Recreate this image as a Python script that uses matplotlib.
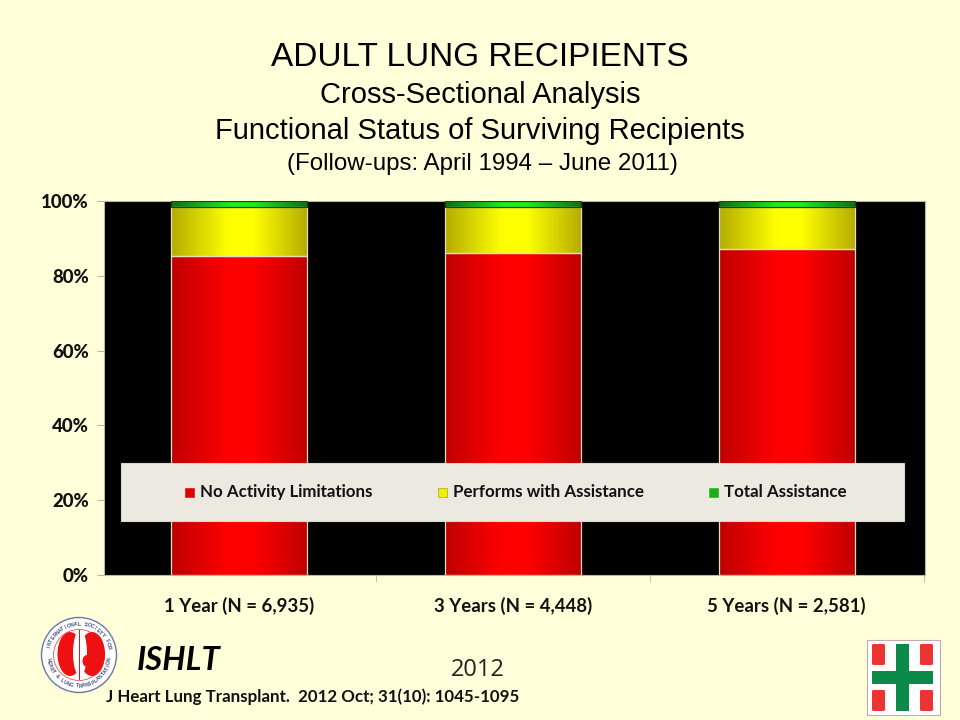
"""ISHLT functional status slide."""
import numpy as np
import matplotlib
matplotlib.use("Agg")
import matplotlib.pyplot as plt
from matplotlib.colors import LinearSegmentedColormap
from matplotlib.patches import Circle, Ellipse, Rectangle, FancyBboxPatch

categories = ["1 Year (N = 6,935)", "3 Years (N = 4,448)", "5 Years (N = 2,581)"]
no_limits = [85.2, 86.1, 87.1]
with_assist = [13.3, 12.4, 11.4]
total_assist = [1.5, 1.5, 1.5]
series_names = ["No Activity Limitations", "Performs with Assistance", "Total Assistance"]
y_ticks = [0, 20, 40, 60, 80, 100]

BG = "#FFFFD9"
W, H = 960, 720
TITLE = "Liberation Sans"
BODY = "Lato"


def gradient_bars(ax, x, bottoms, heights, cmap, edge, lw=0.9):
    bars = ax.bar(x, heights, width=0.497, bottom=bottoms, color="none",
                  edgecolor=edge, linewidth=lw, zorder=3)
    grad = np.linspace(0, 1, 256).reshape(1, -1)
    for b in bars:
        im = ax.imshow(grad, cmap=cmap, aspect="auto", zorder=2,
                       extent=(b.get_x(), b.get_x() + b.get_width(),
                               b.get_y(), b.get_y() + b.get_height()))
        im.set_clip_path(b)


def pick(c_edge, c_mid):
    return LinearSegmentedColormap.from_list(
        "g", [(0, c_edge), (0.42, c_mid), (0.6, c_mid), (1, c_edge)])


fig = plt.figure(figsize=(9.6, 7.2), dpi=100, facecolor=BG)
ax = fig.add_axes([104 / W, 1 - 575 / H, (925 - 104) / W, (575 - 201) / H], facecolor="black")

x = np.arange(len(categories))
no_limits = np.array(no_limits)
with_assist = np.array(with_assist)
total_assist = np.array(total_assist)
gradient_bars(ax, x, 0, no_limits, pick("#BE0000", "#FF0000"), "#E8DCC0")
gradient_bars(ax, x, no_limits, with_assist, pick("#B4AC00", "#FFFF00"), "#E8DCC0")
gradient_bars(ax, x, no_limits + with_assist, total_assist, pick("#0E6E0E", "#18F018"), "#0B4D0B")

ax.set_xlim(-0.495, 2.505)
ax.set_ylim(0, 100)
ax.set_yticks(y_ticks)
ax.set_yticklabels([f"{t}%" for t in y_ticks], fontfamily=BODY, fontweight="black", fontsize=13.4, color="#111111")
ax.set_xticks(x)
ax.set_xticklabels(categories, fontfamily=BODY, fontweight="bold", fontsize=13.4, color="#111111")
ax.tick_params(axis="x", length=0, pad=16)
ax.tick_params(axis="y", length=5, color="#B8B8A8", pad=6)
ax.set_xticks([0.5, 1.5, 2.5], minor=True)
ax.tick_params(axis="x", which="minor", length=5, color="#B8B8A8")
for s in ax.spines.values():
    s.set_color("#B8B8A8")

# everything below sits on a pixel-coordinate overlay
ov = fig.add_axes([0, 0, 1, 1], facecolor="none")
ov.set_xlim(0, W)
ov.set_ylim(H, 0)
ov.axis("off")

# titles
ov.text(480, 58, "ADULT LUNG RECIPIENTS", ha="center", va="center", family=TITLE, fontsize=24)
ov.text(480, 95, "Cross-Sectional Analysis", ha="center", va="center", family=TITLE, fontsize=21)
ov.text(480, 131, "Functional Status of Surviving Recipients", ha="center", va="center", family=TITLE, fontsize=21)
ov.text(482, 164, "(Follow-ups: April 1994 \u2013 June 2011)", ha="center", va="center", family=TITLE, fontsize=17.4)

# legend band
ov.add_patch(Rectangle((121, 463), 783, 58, facecolor="#ECE9E0", edgecolor="#D8D8D0", linewidth=0.8, zorder=5))
legend_x = [185, 438, 709]
legend_cols = ["#E00000", "#EFEF10", "#18B018"]
for lx, col, name in zip(legend_x, legend_cols, series_names):
    ov.add_patch(Rectangle((lx, 487.5), 9, 9, facecolor=col, edgecolor="#999900" if col == "#EFEF10" else col,
                           linewidth=0.4, zorder=6))
    ov.text(lx + 15, 492, name, ha="left", va="center", family=BODY, fontweight="bold",
            fontsize=12.2, color="#111111", zorder=6)

# footer
ov.text(137, 660, "ISHLT", ha="left", va="center", family=BODY, fontweight="bold", style="italic", fontsize=23.6)
ov.text(478, 670, "2012", ha="center", va="center", family="Open Sans", fontsize=17, color="#222222")
ov.text(106, 697, "J Heart Lung Transplant.  2012 Oct; 31(10): 1045-1095", ha="left", va="center",
        family=BODY, fontweight="bold", fontsize=12.2, color="#111111")

# society logo
cx, cy = 79, 655
ov.add_patch(Circle((cx, cy), 37.5, facecolor="white", edgecolor="#6A78A8", linewidth=1.0))
ov.add_patch(Circle((cx, cy), 25.5, facecolor="white", edgecolor="#E85050", linewidth=0.6))
ov.add_patch(Ellipse((cx - 9, cy - 1), 25, 44, facecolor="#EE1111", edgecolor="none"))
ov.add_patch(Ellipse((cx + 13, cy - 1), 26, 44, facecolor="#EE1111", edgecolor="none"))
ov.add_patch(Ellipse((cx + 1, cy - 2), 14, 46, facecolor="white", edgecolor="none"))
ov.add_patch(Ellipse((cx + 8, cy + 6), 9, 12, facecolor="#EE1111", edgecolor="none"))
ov.add_patch(Rectangle((cx - 0.5, cy - 25), 1.0, 50, facecolor="#EE1111", edgecolor="none"))
ring_top = "INTERNATIONAL SOCIETY FOR"
ring_bottom = "HEART & LUNG TRANSPLANTATION"
for i, ch in enumerate(ring_top):
    a = -75 + i * 150 / (len(ring_top) - 1)
    r = np.deg2rad(a)
    ov.text(cx + 31 * np.sin(r), cy - 31 * np.cos(r), ch, rotation=-a, rotation_mode="anchor",
            ha="center", va="center", fontsize=3.6, fontweight="bold", color="#44507A", family=TITLE)
for i, ch in enumerate(ring_bottom):
    a = -82 + i * 164 / (len(ring_bottom) - 1)
    r = np.deg2rad(a)
    ov.text(cx + 31 * np.sin(r), cy + 31 * np.cos(r), ch, rotation=a, rotation_mode="anchor",
            ha="center", va="center", fontsize=3.6, fontweight="bold", color="#44507A", family=TITLE)

# green cross logo
ov.add_patch(Rectangle((867, 640), 73, 75, facecolor="white", edgecolor="#C8A8A8", linewidth=0.8))
for rx, ry, rw, rh in [(872, 644, 13, 21), (920, 644, 13, 21), (872, 690, 13, 21), (920, 690, 13, 21)]:
    ov.add_patch(FancyBboxPatch((rx + 1.5, ry + 1.5), rw - 3, rh - 3, boxstyle="round,pad=1.5",
                                facecolor="#EE3333", edgecolor="none"))
ov.add_patch(Rectangle((896, 644), 13, 67, facecolor="#0B8A4A", edgecolor="none"))
ov.add_patch(Rectangle((872, 671), 61, 13, facecolor="#0B8A4A", edgecolor="none"))

fig.savefig("out.png", dpi=100, facecolor=BG)
